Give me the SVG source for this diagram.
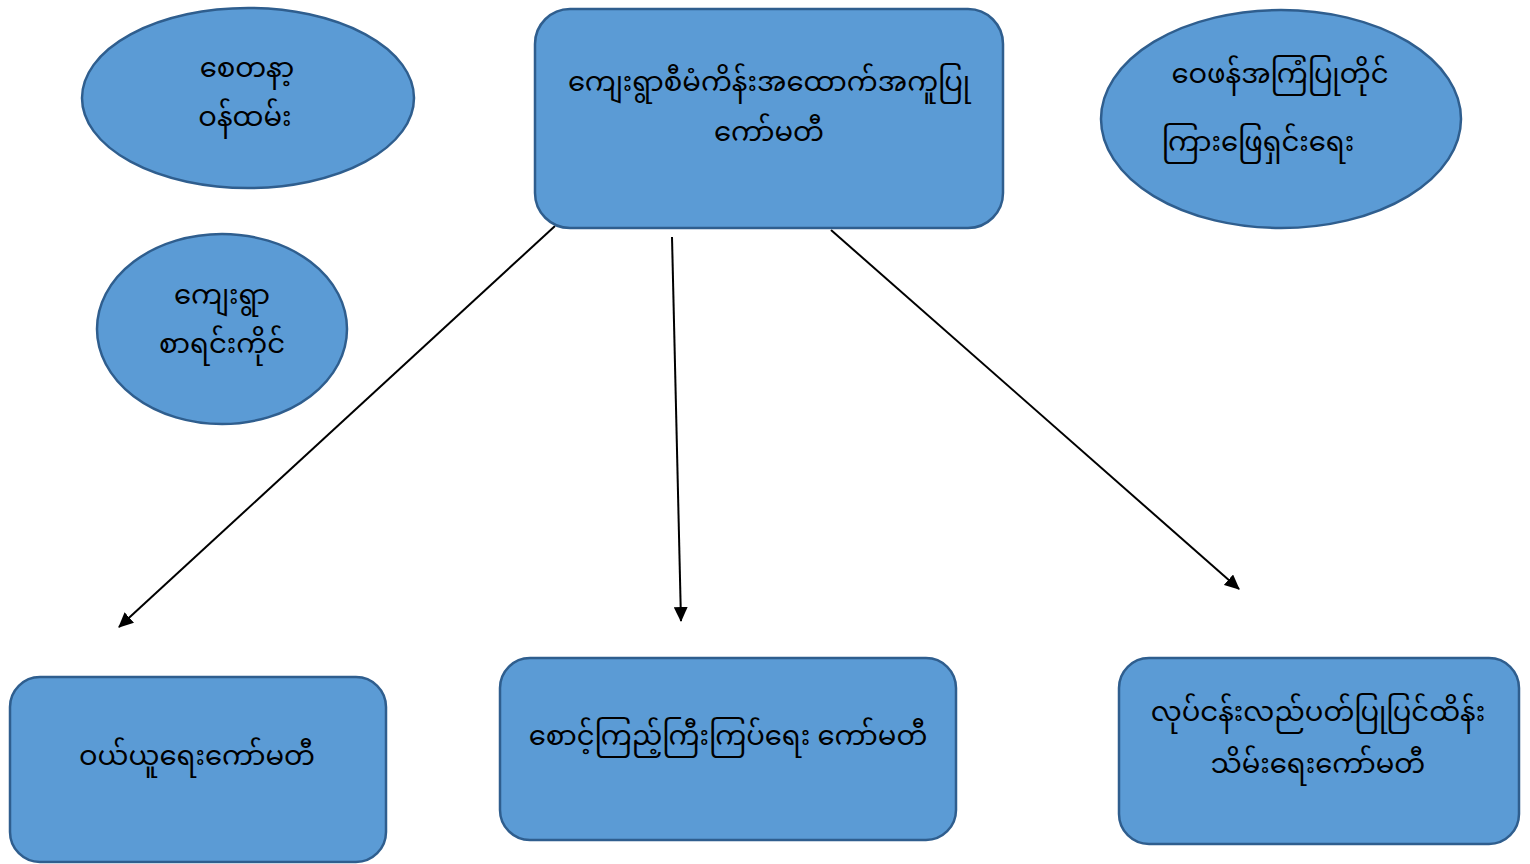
<svg xmlns="http://www.w3.org/2000/svg" width="1530" height="864" viewBox="0 0 1530 864">
<defs>
<style>
.n{fill:#5b9bd5;stroke:#2f5e8e;stroke-width:2.5}
.t{font-family:"Noto Sans Myanmar","Padauk","Myanmar Text","Noto Sans",sans-serif;font-size:27.5px;fill:#000;text-anchor:middle}
.c{stroke:#000;stroke-width:2;fill:none;marker-end:url(#ah)}
</style>
<marker id="ah" viewBox="0 0 15 14" refX="14" refY="7" markerWidth="15" markerHeight="14" markerUnits="userSpaceOnUse" orient="auto"><path d="M0,0 L15,7 L0,14 z" fill="#000"/></marker>
</defs>
<rect width="1530" height="864" fill="#fff"/>
<g id="connectors">
<line class="c" x1="555" y1="226" x2="119" y2="627"/>
<line class="c" x1="672" y1="237" x2="681" y2="621"/>
<line class="c" x1="831" y1="230" x2="1239" y2="589"/>
</g>
<g id="n-top">
<rect class="n" x="535" y="9" width="468" height="219" rx="35"/>
<text class="t" x="769" y="91">ကျေးရွာစီမံကိန်းအထောက်အကူပြု</text>
<text class="t" x="769" y="141">ကော်မတီ</text>
</g>
<g id="n-volunteer">
<ellipse class="n" cx="248" cy="98" rx="166" ry="90"/>
<text class="t" x="247" y="77">စေတနာ့</text>
<text class="t" x="245" y="126">ဝန်ထမ်း</text>
</g>
<g id="n-accountant">
<ellipse class="n" cx="222" cy="329" rx="125" ry="95"/>
<text class="t" x="222" y="304">ကျေးရွာ</text>
<text class="t" x="222" y="353">စာရင်းကိုင်</text>
</g>
<g id="n-feedback">
<ellipse class="n" cx="1281" cy="119" rx="180" ry="109"/>
<text class="t" x="1280" y="83">ဝေဖန်အကြံပြုတိုင်</text>
<text class="t" x="1258" y="151">ကြားဖြေရှင်းရေး</text>
</g>
<g id="n-purchase">
<rect class="n" x="10" y="677" width="376" height="185" rx="30"/>
<text class="t" x="197" y="765">ဝယ်ယူရေးကော်မတီ</text>
</g>
<g id="n-monitor">
<rect class="n" x="500" y="658" width="456" height="182" rx="30"/>
<text class="t" x="728" y="745">စောင့်ကြည့်ကြီးကြပ်ရေး ကော်မတီ</text>
</g>
<g id="n-operation">
<rect class="n" x="1119" y="658" width="400" height="186" rx="30"/>
<text class="t" x="1318" y="721">လုပ်ငန်းလည်ပတ်ပြုပြင်ထိန်း</text>
<text class="t" x="1318" y="773">သိမ်းရေးကော်မတီ</text>
</g>
</svg>
